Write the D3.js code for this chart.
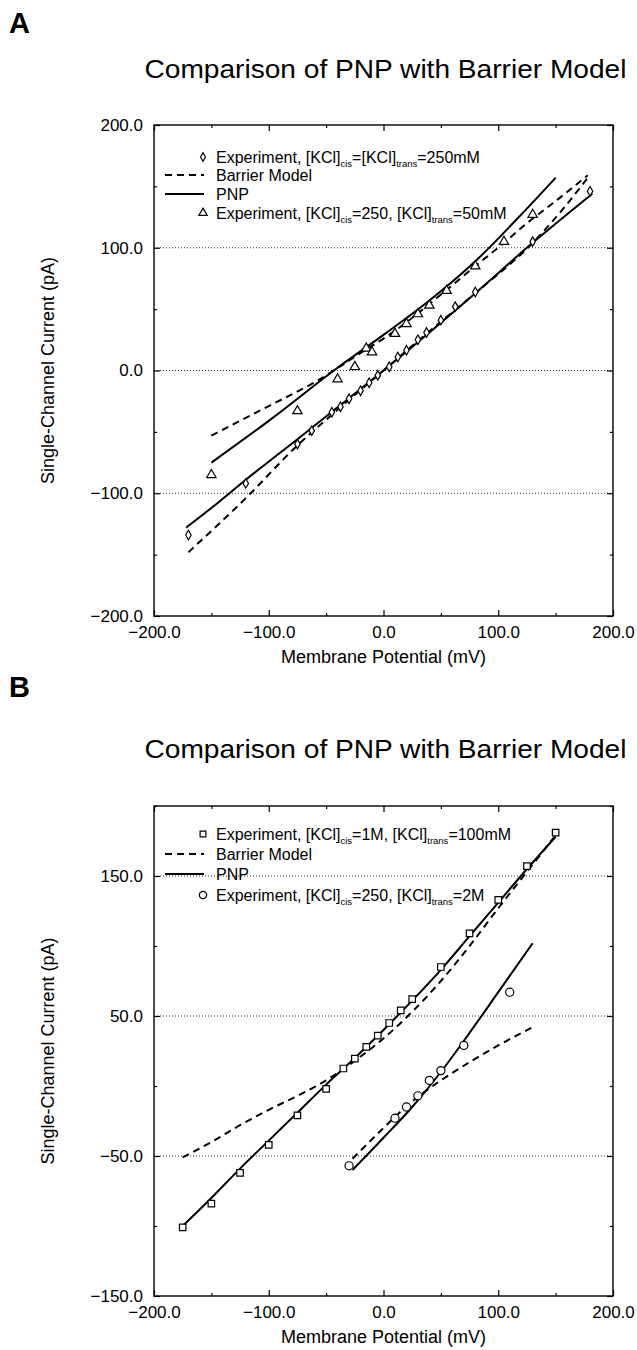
<!DOCTYPE html>
<html><head><meta charset="utf-8">
<script src="https://cdn.jsdelivr.net/npm/d3@7"></script>
<style>body{margin:0;background:#fff}svg{display:block;font-family:"Liberation Sans",Arial,Helvetica,sans-serif}</style>
</head><body><svg id="c" width="637" height="1350"></svg>
<script>
// ---------- DATA: panel A ----------
const titleText = "Comparison of PNP with Barrier Model";
const xLabel = "Membrane Potential (mV)";
const yLabel = "Single-Channel Current (pA)";
const xMajorTicks = [-200, -100, 0, 100, 200];
const xMinorTicks = [-150, -50, 50, 150];

const aYMajor = [-200, -100, 0, 100, 200];
const aYMinor = [-150, -50, 50, 150];
const aGrid = [-100, 0, 100];

const aDiamondV = [-170, -120, -75, -62.5, -45, -37.5, -30, -20, -12.5, -5, 5, 12.5, 20, 30, 37.5, 50, 62.5, 80, 130, 180];
const aDiamondI = [-134, -92, -60, -49, -34, -29.5, -23, -16.5, -10, -4, 3, 11, 16.5, 25, 31, 41, 52, 64, 105, 146];
const aTriV = [-150, -75, -40, -25, -15, -10, 10, 20, 30, 40, 55, 80, 105, 130];
const aTriI = [-85, -33, -7, 3, 18, 15, 30, 38, 46, 53, 65, 85, 105, 127];

const aPnpDiaV = [-172, -150, -120, -75, -40, 0, 40, 80, 130, 182];
const aPnpDiaI = [-128, -112, -89, -56, -30, 0, 31, 63, 104, 144];
const aBarDiaV = [-170, -120, -75, -40, 0, 40, 80, 130, 155, 178];
const aBarDiaI = [-148, -104, -61, -32, 0, 32, 63, 104, 130, 157];
const aPnpTriV = [-150, -100, -38, 0, 40, 80, 120, 150];
const aPnpTriI = [-75, -41, 3.7, 29, 57, 89, 127, 157];
const aBarTriV = [-150, -100, -59, -12, 0, 55, 80, 105, 125, 150, 178];
const aBarTriI = [-53, -29, -9, 19, 26, 65.6, 85, 104, 120, 138, 159];

// ---------- DATA: panel B ----------
const bYMajor = [-150, -50, 50, 150];
const bYMinor = [-100, 0, 100, 200];
const bGrid = [-50, 50, 150];

const bSquareV = [-175, -150, -125, -100, -75, -50, -35, -25, -15, -5, 5, 15, 25, 50, 75, 100, 125, 150];
const bSquareI = [-101, -84, -62, -42, -21, -2, 12.5, 19.5, 28, 36, 45, 54, 62, 85, 109, 133, 157, 181];
const bCircleV = [-30, 10, 20, 30, 40, 50, 70, 110];
const bCircleI = [-57, -23, -15, -7, 4, 11, 29, 67];

const bPnpSqV = [-175, -150, -125, -100, -75, -50, -25, 0, 25, 50, 75, 100, 125, 150];
const bPnpSqI = [-100, -80, -59, -39, -19, 1, 20, 40, 61, 83, 107, 131, 155, 178];
const bBarSqV = [-175, -150, -125, -100, -75, -50, -25, 0, 25, 50, 75, 100, 125, 150];
const bBarSqI = [-51, -40, -28, -17, -7, 4, 18, 34, 53, 75, 100, 127, 153, 179];
const bPnpCiV = [-27, 0, 25, 50, 75, 100, 130];
const bPnpCiI = [-60, -37, -15, 10, 38, 67, 102];
const bBarCiV = [-27, 0, 25, 50, 75, 100, 130];
const bBarCiI = [-52, -30, -11, 4, 17, 29, 42];

const legendA = [
  {kind:"sym", sym:"diamond", parts:[["Experiment, [KCl]"],["cis","sub"],["=[KCl]"],["trans","sub"],["=250mM"]]},
  {kind:"dash", parts:[["Barrier Model"]]},
  {kind:"solid", parts:[["PNP"]]},
  {kind:"sym", sym:"triangle", parts:[["Experiment, [KCl]"],["cis","sub"],["=250, [KCl]"],["trans","sub"],["=50mM"]]}
];
const legendB = [
  {kind:"sym", sym:"square", parts:[["Experiment, [KCl]"],["cis","sub"],["=1M, [KCl]"],["trans","sub"],["=100mM"]]},
  {kind:"dash", parts:[["Barrier Model"]]},
  {kind:"solid", parts:[["PNP"]]},
  {kind:"sym", sym:"circle", parts:[["Experiment, [KCl]"],["cis","sub"],["=250, [KCl]"],["trans","sub"],["=2M"]]}
];

// ---------- DRAW ----------
const svg = d3.select("#c");
const zip = (a, b) => a.map((v, i) => [v, b[i]]);
const symTypes = {diamond: d3.symbolDiamond, triangle: d3.symbolTriangle, square: d3.symbolSquare, circle: d3.symbolCircle};
const symSizes = {diamond: 26, triangle: 38, square: 42, circle: 52};

function panel(cfg) {
  const g = svg.append("g");
  const x = d3.scaleLinear().domain([-200, 200]).range([cfg.left, cfg.right]);
  const y = d3.scaleLinear().domain(cfg.yDomain).range([cfg.bottom, cfg.top]);

  // panel letter
  g.append("text").attr("x", 9).attr("y", cfg.letterY).attr("font-size", 29).attr("font-weight", "bold").text(cfg.letter);
  // title
  g.append("text").attr("x", (cfg.left + cfg.right) / 2 + 2).attr("y", cfg.titleY).attr("text-anchor", "middle")
    .attr("font-size", 26).attr("textLength", 482).attr("lengthAdjust", "spacingAndGlyphs").text(titleText);

  // grid
  g.selectAll(".grid").data(cfg.grid).join("line")
    .attr("x1", cfg.left).attr("x2", cfg.right).attr("y1", d => y(d)).attr("y2", d => y(d))
    .attr("stroke", "#333").attr("stroke-width", 1).attr("stroke-dasharray", "1,2");

  const fmt = d3.format(".1f");
  const h = cfg.bottom - cfg.top, w = cfg.right - cfg.left;
  // bottom axis major / minor
  const axB = g.append("g").attr("transform", `translate(0,${cfg.bottom})`)
    .call(d3.axisBottom(x).tickValues(xMajorTicks).tickFormat(fmt).tickSizeInner(-6).tickSizeOuter(0).tickPadding(10));
  g.append("g").attr("transform", `translate(0,${cfg.bottom})`)
    .call(d3.axisBottom(x).tickValues(xMinorTicks).tickFormat("").tickSizeInner(-3).tickSizeOuter(0));
  g.append("g").attr("transform", `translate(0,${cfg.top})`)
    .call(d3.axisTop(x).tickValues(xMajorTicks).tickFormat("").tickSizeInner(-6).tickSizeOuter(0));
  g.append("g").attr("transform", `translate(0,${cfg.top})`)
    .call(d3.axisTop(x).tickValues(xMinorTicks).tickFormat("").tickSizeInner(-3).tickSizeOuter(0));
  g.append("g").attr("transform", `translate(${cfg.left},0)`)
    .call(d3.axisLeft(y).tickValues(cfg.yMajor).tickFormat(fmt).tickSizeInner(-6).tickSizeOuter(0).tickPadding(11));
  g.append("g").attr("transform", `translate(${cfg.left},0)`)
    .call(d3.axisLeft(y).tickValues(cfg.yMinor).tickFormat("").tickSizeInner(-3).tickSizeOuter(0));
  g.append("g").attr("transform", `translate(${cfg.right},0)`)
    .call(d3.axisRight(y).tickValues(cfg.yMajor).tickFormat("").tickSizeInner(-6).tickSizeOuter(0));
  g.append("g").attr("transform", `translate(${cfg.right},0)`)
    .call(d3.axisRight(y).tickValues(cfg.yMinor).tickFormat("").tickSizeInner(-3).tickSizeOuter(0));
  g.selectAll(".domain").remove();
  g.selectAll(".tick line").attr("stroke", "#000").attr("stroke-width", 1.2);
  g.selectAll(".tick text").attr("font-size", 17).attr("fill", "#000").attr("font-family", "Liberation Sans, Arial, sans-serif");

  // frame
  g.append("rect").attr("x", cfg.left).attr("y", cfg.top).attr("width", w).attr("height", h)
    .attr("fill", "none").attr("stroke", "#000").attr("stroke-width", 1.4);

  // axis titles
  g.append("text").attr("x", (cfg.left + cfg.right) / 2).attr("y", cfg.bottom + 47).attr("text-anchor", "middle")
    .attr("font-size", 18).text(xLabel);
  g.append("text").attr("transform", `translate(54,${(cfg.top + cfg.bottom) / 2}) rotate(-90)`).attr("text-anchor", "middle")
    .attr("font-size", 18).text(yLabel);

  // lines
  const line = d3.line().x(d => x(d[0])).y(d => y(d[1])).curve(d3.curveMonotoneX);
  cfg.lines.forEach(L => {
    g.append("path").attr("d", line(zip(L.v, L.i))).attr("fill", "none").attr("stroke", "#000")
      .attr("stroke-width", 2).attr("stroke-dasharray", L.dash ? "7,5" : null);
  });
  // markers
  cfg.points.forEach(P => {
    const s = d3.symbol(symTypes[P.sym], symSizes[P.sym]);
    g.selectAll(null).data(zip(P.v, P.i)).join("path")
      .attr("d", s).attr("transform", d => `translate(${x(d[0])},${y(d[1])})`)
      .attr("fill", "#fff").attr("stroke", "#000").attr("stroke-width", 1.2);
  });

  // legend
  cfg.legend.forEach((L, k) => {
    const ly = cfg.legendY[k];
    if (L.kind === "sym") {
      g.append("path").attr("d", d3.symbol(symTypes[L.sym], symSizes[L.sym] * 0.8)())
        .attr("transform", `translate(${cfg.legendSymX},${ly})`).attr("fill", "#fff").attr("stroke", "#000").attr("stroke-width", 1.2);
    } else {
      g.append("line").attr("x1", cfg.legendLineX[0]).attr("x2", cfg.legendLineX[1]).attr("y1", ly).attr("y2", ly)
        .attr("stroke", "#000").attr("stroke-width", 2).attr("stroke-dasharray", L.kind === "dash" ? "7,5" : null);
    }
    const t = g.append("text").attr("x", cfg.legendTextX).attr("y", ly + 6).attr("font-size", 16);
    let sub = false;
    L.parts.forEach(p => {
      const isSub = p[1] === "sub";
      const ts = t.append("tspan").text(p[0]);
      if (isSub && !sub) { ts.attr("dy", 4).attr("font-size", 9.5); sub = true; }
      else if (!isSub && sub) { ts.attr("dy", -4); sub = false; }
    });
  });
}

panel({
  letter: "A", letterY: 33, titleY: 78,
  left: 154, right: 613, top: 125, bottom: 616, yDomain: [-200, 200],
  yMajor: aYMajor, yMinor: aYMinor, grid: aGrid,
  lines: [
    {v: aBarDiaV, i: aBarDiaI, dash: true},
    {v: aPnpDiaV, i: aPnpDiaI, dash: false},
    {v: aBarTriV, i: aBarTriI, dash: true},
    {v: aPnpTriV, i: aPnpTriI, dash: false}
  ],
  points: [
    {sym: "diamond", v: aDiamondV, i: aDiamondI},
    {sym: "triangle", v: aTriV, i: aTriI}
  ],
  legend: legendA, legendY: [157, 175, 194, 213], legendSymX: 203, legendLineX: [165, 204], legendTextX: 216
});

panel({
  letter: "B", letterY: 697, titleY: 758,
  left: 154, right: 613, top: 806, bottom: 1296, yDomain: [-150, 200],
  yMajor: bYMajor, yMinor: bYMinor, grid: bGrid,
  lines: [
    {v: bBarSqV, i: bBarSqI, dash: true},
    {v: bPnpSqV, i: bPnpSqI, dash: false},
    {v: bBarCiV, i: bBarCiI, dash: true},
    {v: bPnpCiV, i: bPnpCiI, dash: false}
  ],
  points: [
    {sym: "square", v: bSquareV, i: bSquareI},
    {sym: "circle", v: bCircleV, i: bCircleI}
  ],
  legend: legendB, legendY: [834, 854, 874, 895], legendSymX: 203, legendLineX: [165, 204], legendTextX: 216
});
</script></body></html>
